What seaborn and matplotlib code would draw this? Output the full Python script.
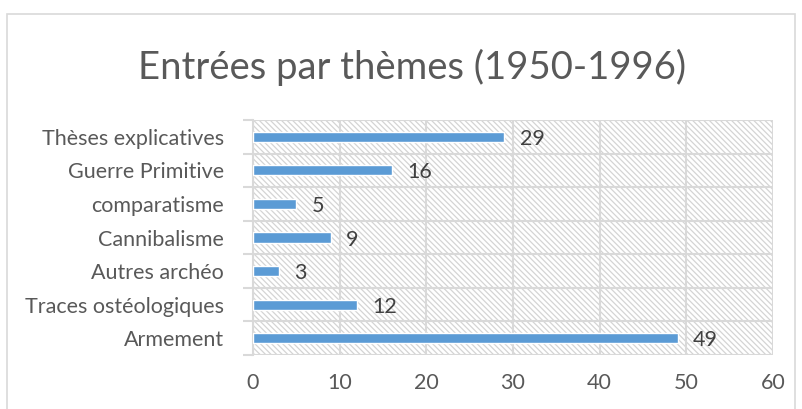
import matplotlib
matplotlib.use("Agg")
import matplotlib.pyplot as plt
import seaborn as sns
import pandas as pd
from matplotlib.patches import Rectangle

categories = ["Thèses explicatives", "Guerre Primitive", "comparatisme",
              "Cannibalisme", "Autres archéo", "Traces ostéologiques", "Armement"]
values = [29, 16, 5, 9, 3, 12, 49]
x_ticks = [0, 10, 20, 30, 40, 50, 60]
title = "Entrées par thèmes (1950-1996)"

sns.set_theme(style="white")
plt.rcParams["font.family"] = ["Lato", "DejaVu Sans"]
plt.rcParams["hatch.linewidth"] = 0.9
plt.rcParams["hatch.color"] = "#d4d4d4"

grid_c = "#d9d9d9"
text_c = "#595959"
bar_c = "#5b9bd5"

df = pd.DataFrame({"theme": categories, "n": values})

fig = plt.figure(figsize=(8.03, 4.09), dpi=100)
fig.patch.set_facecolor("white")
# chart frame
fig.add_artist(Rectangle((7 / 803, -0.05), 788 / 803, 1 - 14 / 409 + 0.05,
                         transform=fig.transFigure, fill=False,
                         edgecolor=grid_c, linewidth=1.2))

ax = fig.add_axes([253 / 803, 1 - 355 / 409, 520 / 803, 235 / 409])

# hatched plot area
ax.add_patch(Rectangle((0, 0), 1, 1, transform=ax.transAxes, facecolor="white",
                       edgecolor="#d4d4d4", hatch="\\" * 6, linewidth=0, zorder=0))

sns.barplot(data=df, y="theme", x="n", orient="h", width=0.3, color=bar_c,
            saturation=1, ax=ax, zorder=3)

ax.set_xlim(0, 60)
ax.set_ylim(len(categories) - 0.5, -0.5)
ax.set_xticks(x_ticks)
ax.set_xticklabels([str(t) for t in x_ticks])
ax.set_xlabel("")
ax.set_ylabel("")

# category separators
ax.set_yticks([i - 0.5 for i in range(len(categories) + 1)], minor=True)
ax.grid(True, which="minor", axis="y", color=grid_c, linewidth=1.5, zorder=1)
ax.grid(True, which="major", axis="x", color=grid_c, linewidth=1.5, zorder=1)
ax.grid(False, which="major", axis="y")
ax.set_axisbelow(True)

ax.tick_params(axis="y", which="minor", length=7, width=1.5, color=grid_c,
               direction="out", left=True)
ax.tick_params(axis="y", which="major", length=0, pad=21, labelsize=15.5,
               labelcolor=text_c)
ax.tick_params(axis="x", which="major", length=0, pad=13, labelsize=15.5,
               labelcolor=text_c)

for s in ["top", "right", "bottom"]:
    ax.spines[s].set_visible(False)
ax.spines["left"].set_color(grid_c)
ax.spines["left"].set_linewidth(1.5)

for i, v in enumerate(values):
    ax.annotate(str(v), xy=(v, i), xytext=(11, -1.5), textcoords="offset points",
                ha="left", va="center", fontsize=15.5, color="#404040")

fig.text(0.513, 1 - 67 / 409, title, ha="center", va="center",
         fontsize=27.5, color=text_c)

fig.savefig("out.png", dpi=100)
